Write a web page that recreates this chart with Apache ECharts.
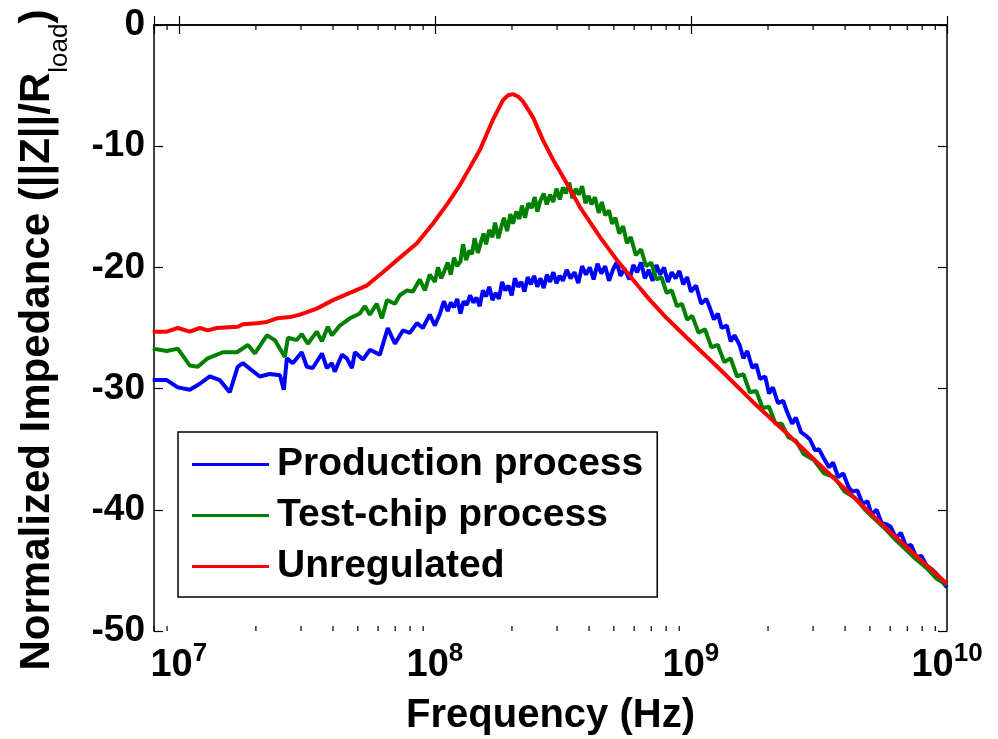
<!DOCTYPE html>
<html>
<head>
<meta charset="utf-8">
<title>Normalized Impedance</title>
<script src="https://cdn.jsdelivr.net/npm/echarts@6/dist/echarts.min.js"></script>
<style>
  html, body { margin: 0; padding: 0; background: #fff; }
  #chart { width: 998px; height: 739px; }
</style>
</head>
<body>
<div id="chart"></div>
<script>
// points are [log10(frequency in Hz), normalized impedance in dB]
var production = [
  [6.898,-29.3],[6.953,-29.3],[6.996,-29.9],[7.043,-30.1],[7.082,-29.6],[7.121,-29.0],[7.160,-29.3],[7.199,-30.3],
  [7.230,-28.2],[7.250,-27.9],[7.316,-29.0],[7.355,-28.8],[7.395,-28.9],[7.410,-30.1],[7.422,-27.5],[7.445,-27.9],
  [7.480,-27.0],[7.500,-28.2],[7.523,-28.3],[7.559,-27.1],[7.578,-28.3],[7.598,-27.9],[7.609,-28.6],[7.637,-27.2],
  [7.656,-27.5],[7.676,-28.3],[7.688,-27.0],[7.719,-27.6],[7.746,-26.8],[7.785,-27.2],[7.816,-25.0],[7.844,-26.3],
  [7.875,-25.2],[7.902,-25.4],[7.930,-24.6],[7.953,-25.0],[7.980,-23.9],[8.000,-24.8],[8.020,-23.8],[8.035,-22.8],
  [8.0500,-23.6],[8.0625,-22.9],[8.0750,-23.3],[8.0875,-22.6],[8.1000,-23.8],[8.1125,-22.8],[8.1250,-23.1],[8.1375,-22.3],
  [8.1500,-22.9],[8.1625,-22.5],[8.1750,-23.2],[8.1875,-21.9],[8.2000,-22.4],[8.2125,-21.6],[8.2250,-22.7],[8.2375,-22.1],
  [8.2500,-22.6],[8.2625,-21.2],[8.2750,-21.9],[8.2875,-21.5],[8.3000,-22.3],[8.3125,-20.9],[8.3250,-21.6],[8.3375,-21.2],
  [8.3500,-22.0],[8.3625,-20.8],[8.3750,-21.4],[8.3875,-20.7],[8.4000,-21.6],[8.4125,-20.9],[8.4250,-21.7],[8.4375,-20.6],
  [8.4500,-21.2],[8.4625,-20.4],[8.4750,-21.3],[8.4875,-20.7],
  [8.500,-21.1],[8.515,-20.2],[8.530,-20.9],[8.545,-20.4],[8.560,-21.3],[8.575,-19.9],[8.590,-20.6],[8.605,-20.0],
  [8.620,-21.0],[8.635,-19.7],[8.650,-20.5],[8.665,-19.9],[8.680,-21.1],[8.695,-20.2],[8.710,-19.6],[8.725,-20.7],
  [8.740,-20.1],[8.760,-21.0],[8.775,-19.8],[8.790,-20.4],[8.805,-19.6],[8.820,-20.9],[8.835,-20.2],[8.850,-21.1],
  [8.865,-19.8],[8.880,-20.6],[8.895,-20.0],[8.910,-21.2],[8.925,-20.4],[8.940,-20.9],[8.955,-20.3],[8.970,-21.4],
  [8.985,-20.8],[9.000,-22.0],[9.020,-21.5],[9.040,-23.0],[9.060,-22.6],[9.075,-23.4],[9.090,-24.3],[9.105,-23.8],
  [9.120,-25.0],[9.140,-24.8],[9.155,-26.1],[9.170,-25.6],[9.190,-26.4],[9.205,-27.5],[9.220,-26.9],[9.240,-28.3],
  [9.255,-28.0],[9.270,-29.2],[9.290,-29.0],[9.305,-30.4],[9.320,-29.9],[9.340,-31.2],[9.360,-31.0],[9.375,-31.9],
  [9.395,-32.9],[9.410,-32.4],[9.430,-33.6],[9.450,-33.9],[9.465,-34.2],[9.485,-35.1],[9.500,-35.0],[9.520,-35.8],
  [9.540,-36.5],[9.555,-36.1],[9.575,-37.3],[9.595,-37.0],[9.615,-38.1],[9.630,-38.5],[9.650,-38.4],[9.670,-39.5],
  [9.690,-39.3],[9.705,-40.4],[9.725,-40.0],[9.745,-41.1],[9.765,-41.2],[9.780,-41.4],[9.800,-42.3],[9.820,-41.9],
  [9.840,-43.0],[9.860,-42.9],[9.880,-43.9],[9.900,-43.8],[9.920,-44.6],[9.940,-44.9],[9.960,-45.3],[9.980,-45.9],
  [10.000,-46.4]
];

var testChip = [
  [6.898,-26.7],[6.953,-26.9],[6.996,-26.7],[7.043,-28.1],[7.074,-28.2],[7.113,-27.5],[7.172,-27.0],[7.227,-27.0],
  [7.270,-26.4],[7.297,-27.1],[7.344,-25.6],[7.375,-26.0],[7.414,-27.4],[7.426,-25.8],[7.461,-26.0],[7.480,-25.5],
  [7.504,-26.3],[7.539,-25.3],[7.559,-26.1],[7.582,-24.9],[7.598,-25.6],[7.629,-24.8],[7.668,-24.2],[7.707,-23.8],
  [7.727,-23.2],[7.746,-23.9],[7.773,-23.0],[7.793,-24.2],[7.813,-22.7],[7.844,-23.0],[7.863,-22.3],[7.891,-21.9],
  [7.914,-22.0],[7.941,-21.0],[7.961,-21.9],[7.980,-20.6],
  [8.000,-21.2],[8.012,-20.0],[8.025,-20.9],[8.037,-20.3],[8.050,-19.6],[8.062,-20.6],[8.075,-19.2],[8.087,-19.9],
  [8.100,-19.5],[8.110,-18.1],[8.122,-19.4],[8.135,-18.6],[8.145,-18.9],[8.155,-17.6],[8.168,-18.8],[8.180,-17.9],
  [8.190,-17.2],[8.200,-18.1],[8.212,-16.9],[8.225,-17.5],[8.235,-16.3],[8.248,-17.6],[8.260,-16.6],[8.270,-15.9],
  [8.282,-17.0],[8.295,-15.6],[8.305,-16.4],[8.318,-15.4],[8.330,-16.0],[8.340,-14.9],[8.352,-15.9],[8.365,-14.7],
  [8.378,-15.1],[8.390,-14.2],[8.400,-15.4],[8.412,-14.5],[8.425,-13.9],[8.437,-14.8],[8.450,-14.0],[8.462,-14.6],
  [8.475,-13.5],[8.488,-14.4],[8.500,-13.4],[8.512,-13.9],[8.525,-13.0],[8.537,-14.3],[8.550,-13.5],[8.562,-14.0],
  [8.575,-13.3],[8.588,-14.7],[8.600,-14.1],[8.612,-14.8],[8.625,-14.2],[8.640,-15.5],[8.652,-14.6],[8.665,-15.7],
  [8.680,-15.3],[8.692,-16.4],[8.705,-15.9],[8.720,-17.2],[8.735,-16.6],[8.750,-18.0],[8.765,-17.5],
  [8.785,-19.0],[8.805,-18.5],[8.825,-19.9],[8.845,-19.6],[8.865,-21.0],[8.885,-20.8],[8.905,-22.1],[8.925,-21.9],
  [8.945,-23.2],[8.965,-23.0],[8.985,-24.3],[9.005,-24.0],[9.030,-25.4],[9.055,-25.1],[9.080,-26.6],[9.105,-26.4],
  [9.130,-27.8],[9.155,-27.5],[9.180,-29.0],[9.205,-28.8],[9.230,-30.3],[9.255,-30.2],[9.280,-31.6],[9.305,-31.5],
  [9.330,-32.9],[9.355,-32.9],[9.380,-34.0],[9.410,-34.3],[9.440,-35.4],[9.480,-35.9],[9.520,-37.0],[9.560,-37.3],
  [9.600,-38.5],[9.640,-39.0],[9.680,-40.0],[9.720,-40.8],[9.760,-41.6],[9.800,-42.5],[9.840,-43.3],[9.880,-44.1],
  [9.920,-44.8],[9.960,-45.7],[10.000,-46.2]
];

var unregulated = [
  [6.898,-25.3],[6.953,-25.3],[6.996,-25.0],[7.043,-25.3],[7.082,-25.0],[7.113,-25.2],[7.148,-25.0],[7.230,-24.9],
  [7.250,-24.7],[7.305,-24.6],[7.344,-24.5],[7.383,-24.2],[7.434,-24.1],[7.473,-23.9],[7.539,-23.4],[7.602,-22.7],
  [7.668,-22.1],[7.734,-21.5],[7.797,-20.4],[7.852,-19.4],[7.930,-18.0],[7.992,-16.4],[8.051,-14.7],[8.098,-13.2],
  [8.125,-12.2],[8.176,-10.3],[8.227,-7.8],[8.266,-6.2],[8.286,-5.8],[8.305,-5.7],[8.325,-5.9],[8.344,-6.3],
  [8.383,-7.6],[8.422,-9.5],[8.461,-11.1],[8.516,-13.1],[8.566,-15.0],[8.645,-17.5],[8.711,-19.4],[8.773,-21.0],
  [8.840,-22.7],[8.906,-24.2],[8.984,-25.8],[9.113,-28.4],[9.242,-31.1],[9.375,-33.7],[9.504,-36.3],[9.633,-38.9],
  [9.766,-41.6],[9.895,-44.1],[10.000,-46.1]
];

var seriesNames = ['Production process', 'Test-chip process', 'Unregulated'];
var seriesColors = ['#0000ff', '#008000', '#ff0000'];

var xMin = 8e6, xMax = 1e10;
var xTickExps = [7, 8, 9, 10];
var minorTicks = [8e6, 9e6,
  2e7, 3e7, 4e7, 5e7, 6e7, 7e7, 8e7, 9e7,
  2e8, 3e8, 4e8, 5e8, 6e8, 7e8, 8e8, 9e8,
  2e9, 3e9, 4e9, 5e9, 6e9, 7e9, 8e9, 9e9];
var yMin = -50, yMax = 0, yStep = 10;

var font = "'Liberation Sans', Arial, Helvetica, sans-serif";

function toHz(points) {
  return points.map(function (p) { return [Math.pow(10, p[0]), p[1]]; });
}

var chart = echarts.init(document.getElementById('chart'));

var lineSeries = [production, testChip, unregulated].map(function (pts, i) {
  return {
    name: seriesNames[i],
    type: 'line',
    data: toHz(pts),
    showSymbol: false,
    symbol: 'none',
    lineStyle: { color: seriesColors[i], width: 4 },
    itemStyle: { color: seriesColors[i] },
    z: 3 + i
  };
});

// minor log ticks, bottom and top, placed through the x axis scale
var minorTickSeries = {
  type: 'custom',
  silent: true,
  clip: false,
  z: 10,
  data: minorTicks.map(function (f) { return [f, yMin]; }),
  renderItem: function (params, api) {
    var b = api.coord([api.value(0), yMin]);
    var t = api.coord([api.value(0), yMax]);
    return {
      type: 'group',
      children: [
        { type: 'line', shape: { x1: b[0], y1: b[1], x2: b[0], y2: b[1] - 5 }, style: { stroke: '#000', lineWidth: 1.2 } },
        { type: 'line', shape: { x1: t[0], y1: t[1], x2: t[0], y2: t[1] + 5 }, style: { stroke: '#000', lineWidth: 1.2 } }
      ]
    };
  }
};

function xLabel(v) {
  var e = Math.round(Math.log10(v));
  if (Math.abs(Math.log10(v) - e) > 1e-6 || xTickExps.indexOf(e) < 0) return '';
  return '{b|10}{sup|' + e + '}';
}

var axisLine = { show: true, lineStyle: { color: '#000', width: 1.5 } };
var axisTick = { show: true, inside: true, length: 9, lineStyle: { color: '#000', width: 1.2 } };

var option = {
  animation: false,
  backgroundColor: '#fff',
  grid: { left: 154, right: 51, top: 25, bottom: 108, containLabel: false, outerBoundsMode: 'none' },
  legend: {
    data: seriesNames,
    orient: 'vertical',
    left: 178,
    top: 432,
    padding: [13, 14, 11, 14],
    itemGap: 12,
    itemWidth: 77,
    itemHeight: 3,
    icon: 'rect',
    backgroundColor: '#fff',
    borderColor: '#000',
    borderWidth: 1.5,
    textStyle: {
      fontFamily: font, fontWeight: 'bold', fontSize: 39, color: '#000',
      lineHeight: 39, padding: [0, 0, 0, 3]
    }
  },
  xAxis: [{
    type: 'log',
    logBase: 10,
    min: xMin,
    max: xMax,
    splitNumber: 3,
    position: 'bottom',
    name: 'Frequency (Hz)',
    nameLocation: 'middle',
    nameGap: 65,
    nameTextStyle: { fontFamily: font, fontWeight: 'bold', fontSize: 40, color: '#000' },
    axisLine: axisLine,
    axisTick: axisTick,
    splitLine: { show: false },
    axisLabel: {
      margin: 10,
      formatter: xLabel,
      hideOverlap: false,
      color: '#000',
      rich: {
        b: { fontFamily: font, fontWeight: 'bold', fontSize: 38, lineHeight: 38, color: '#000', padding: [12, 0, 0, 0] },
        sup: { fontFamily: font, fontWeight: 'bold', fontSize: 26, lineHeight: 26, color: '#000', verticalAlign: 'top' }
      }
    }
  }, {
    type: 'log',
    logBase: 10,
    min: xMin,
    max: xMax,
    splitNumber: 3,
    position: 'top',
    axisLine: axisLine,
    axisTick: axisTick,
    axisLabel: { show: false },
    splitLine: { show: false }
  }],
  yAxis: [{
    type: 'value',
    min: yMin,
    max: yMax,
    interval: yStep,
    position: 'left',
    name: '{b|Normalized Impedance (||Z||/R}{s|load}{e|)}',
    nameLocation: 'middle',
    nameRotate: 90,
    nameGap: 96,
    nameTextStyle: {
      rich: {
        b: { fontFamily: font, fontWeight: 'bold', fontSize: 42, lineHeight: 42, color: '#000', verticalAlign: 'top' },
        e: { fontFamily: font, fontWeight: 'bold', fontSize: 42, lineHeight: 42, color: '#000', verticalAlign: 'top', padding: [0, 24, 0, 0] },
        s: { fontFamily: font, fontWeight: 'normal', fontSize: 26, lineHeight: 26, color: '#000', padding: [46, 0, 0, 0] }
      }
    },
    axisLine: axisLine,
    axisTick: axisTick,
    splitLine: { show: false },
    axisLabel: { margin: 9, fontFamily: font, fontWeight: 'bold', fontSize: 37, color: '#000' }
  }, {
    type: 'value',
    min: yMin,
    max: yMax,
    interval: yStep,
    position: 'right',
    axisLine: axisLine,
    axisTick: axisTick,
    axisLabel: { show: false },
    splitLine: { show: false }
  }],
  series: [minorTickSeries].concat(lineSeries)
};

chart.setOption(option);
</script>
</body>
</html>
